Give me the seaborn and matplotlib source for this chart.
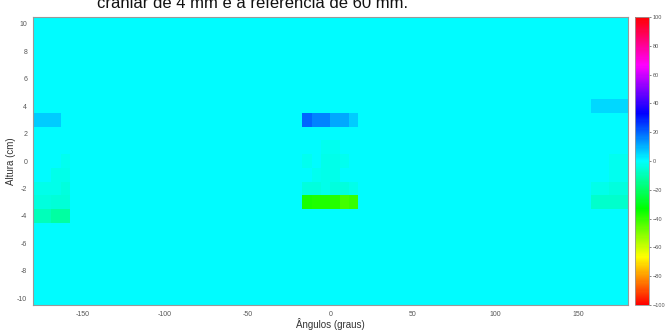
import numpy as np
import pandas as pd
import matplotlib
matplotlib.use("Agg")
import matplotlib.pyplot as plt
from matplotlib.colors import ListedColormap, hsv_to_rgb
import seaborn as sns

# ---- data -----------------------------------------------------------
title_text = "craniar de 4 mm e a referência de 60 mm."
x_label = "Ângulos (graus)"
y_label = "Altura (cm)"
angle_step = 5.625
angle_centers = np.arange(-180, 180, angle_step) + angle_step / 2   # 64 columns
heights = list(range(10, -11, -1))                                   # 21 rows, top→bottom
x_ticks = [-150, -100, -50, 0, 50, 100, 150]
y_ticks = [10, 8, 6, 4, 2, 0, -2, -4, -6, -8, -10]
cbar_ticks = [100, 80, 60, 40, 20, 0, -20, -40, -60, -80, -100]

# non-zero differences: height -> {column index: value}
row_p4 = {60: 5, 61: 5, 62: 5, 63: 5}
row_p3 = {0: 7, 1: 7, 2: 7, 29: 20, 30: 16, 31: 16, 32: 11, 33: 11, 34: 7}
row_p1 = {31: -2, 32: -2}
row_0 = {3: -2, 29: -2, 31: -3, 32: -3, 33: -2, 62: -2, 63: -2}
row_m1 = {2: -3, 3: -3, 30: -2, 31: -3, 32: -3, 62: -2, 63: -2}
row_m2 = {0: -3, 1: -3, 2: -3, 3: -4, 29: -4, 30: -4, 31: -3, 32: -4, 33: -4, 34: -3,
          60: -3, 61: -3, 62: -4, 63: -4}
row_m3 = {0: -4, 1: -4, 2: -5, 3: -5, 29: -36, 30: -37, 31: -37, 32: -38, 33: -42, 34: -40,
          60: -7, 61: -7, 62: -7, 63: -7}
row_m4 = {0: -9, 1: -9, 2: -12, 3: -12}
cells = {4: row_p4, 3: row_p3, 1: row_p1, 0: row_0, -1: row_m1, -2: row_m2,
         -3: row_m3, -4: row_m4}

# ---- build table ----------------------------------------------------
mat = np.zeros((len(heights), len(angle_centers)))
for h, row in cells.items():
    for k, v in row.items():
        mat[heights.index(h), k] = v
df = pd.DataFrame(mat, index=heights, columns=np.round(angle_centers, 3))

hues = np.linspace(0, 1, 256)
cmap = ListedColormap(hsv_to_rgb(np.stack([hues, np.ones(256), np.ones(256)], axis=1)))

# ---- figure ---------------------------------------------------------
sns.set_theme(style="white")
plt.rcParams['font.family'] = ['Liberation Sans', 'DejaVu Sans']
fig = plt.figure(figsize=(6.68, 3.33), dpi=100)
ax = fig.add_axes([0.049, 0.084, 0.891, 0.865])
cax = fig.add_axes([0.951, 0.084, 0.020, 0.865])

sns.heatmap(df, ax=ax, cbar_ax=cax, cmap=cmap, vmin=-100, vmax=100,
            xticklabels=False, yticklabels=False,
            cbar_kws={"ticks": cbar_ticks})

ncol = len(angle_centers)
xt_pos = [(a + 180) / 360 * ncol for a in x_ticks]
yt_pos = [(10 - h) + 0.5 for h in y_ticks]
ax.set_xticks(xt_pos)
ax.set_xticklabels([str(t) for t in x_ticks], rotation=0)
ax.set_yticks(yt_pos)
ax.set_yticklabels([str(t) for t in y_ticks], rotation=0)
tick_col = "#555555"
ax.tick_params(axis="both", direction="in", length=3, width=0.6, color=tick_col,
               labelsize=5, labelcolor="#555555", top=True, right=True,
               bottom=True, left=True, pad=4)
for s in ax.spines.values():
    s.set_visible(True)
    s.set_color("#999999")
    s.set_linewidth(0.8)
ax.set_xlabel(x_label, fontsize=7, color="#333333", labelpad=0)
ax.set_ylabel(y_label, fontsize=7, color="#333333", labelpad=1)

cax.tick_params(labelsize=4, labelcolor="#555555", direction="out", length=1.5,
                width=0.5, color=tick_col, pad=1.5)
cax.yaxis.set_ticks_position("right")
cbar = ax.collections[0].colorbar
cbar.outline.set_visible(True)
cbar.outline.set_edgecolor("#999999")
cbar.outline.set_linewidth(0.6)

fig.text(0.378, 0.977, title_text, ha="center", va="baseline",
         fontsize=12, color="#111111")

fig.savefig("out.png", dpi=100)
